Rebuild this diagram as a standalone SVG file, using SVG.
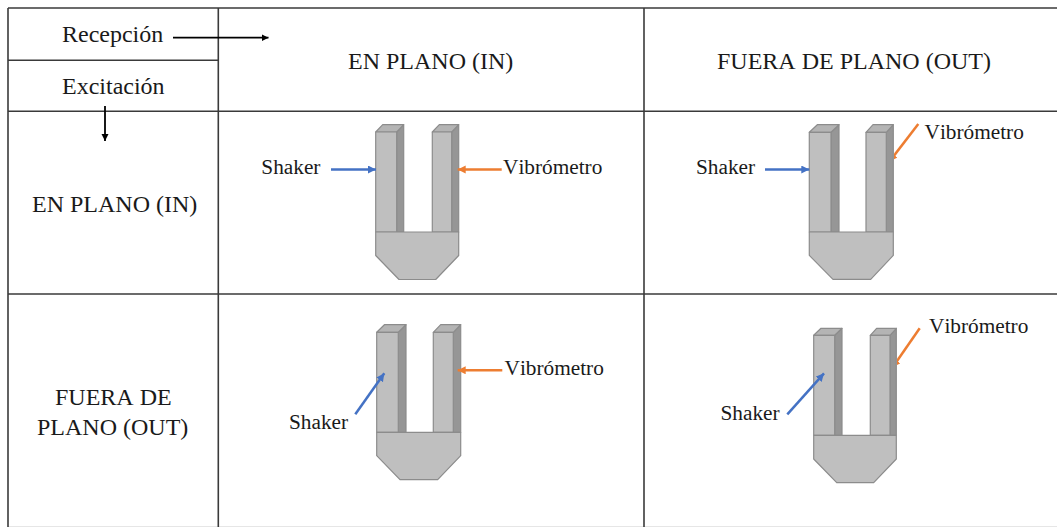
<svg xmlns="http://www.w3.org/2000/svg" width="1057" height="527" viewBox="0 0 1057 527">
<style>
text{font-family:"Liberation Serif","Times New Roman",serif;fill:#1a1a1a;font-kerning:none}
.h{font-size:24px}.l{font-size:21.3px}
.grid line{stroke:#3a3a3a;stroke-width:1.6}
.f{fill:#bfbfbf;stroke:#8c8c8c;stroke-width:1.2;stroke-linejoin:round}
.s{fill:#969696;stroke:#8c8c8c;stroke-width:1.2;stroke-linejoin:round}
.t{fill:#b4b4b4;stroke:#8c8c8c;stroke-width:1.2;stroke-linejoin:round}
.b{stroke:#4472c4;stroke-width:2.5;fill:none}
.o{stroke:#ed7d31;stroke-width:2.5;fill:none}
.k{stroke:#000;stroke-width:1.8;fill:none}
</style>
<defs>
<marker id="mb" markerUnits="userSpaceOnUse" markerWidth="9" markerHeight="9" refX="8" refY="4" orient="auto"><path d="M0 0L8 4L0 8Z" fill="#4472c4"/></marker>
<marker id="mo" markerUnits="userSpaceOnUse" markerWidth="9" markerHeight="9" refX="8" refY="4" orient="auto"><path d="M0 0L8 4L0 8Z" fill="#ed7d31"/></marker>
<marker id="mk" markerUnits="userSpaceOnUse" markerWidth="9" markerHeight="9" refX="7" refY="3.5" orient="auto"><path d="M0 0L7 3.5L0 7Z" fill="#000"/></marker>
<clipPath id="c2"><rect x="893.9" y="110" width="40" height="60"/></clipPath>
<clipPath id="c4"><rect x="896.9" y="320" width="40" height="60"/></clipPath>
</defs>
<g id="grid" class="grid">
<line x1="8" y1="8" x2="1057" y2="8"/>
<line x1="8" y1="60.3" x2="218.3" y2="60.3"/>
<line x1="8" y1="111.3" x2="1057" y2="111.3"/>
<line x1="8" y1="294" x2="1057" y2="294"/>
<line x1="8" y1="526.5" x2="1057" y2="526.5" style="stroke:#e6e6e6;stroke-width:1"/>
<line x1="8" y1="8" x2="8" y2="527"/>
<line x1="218.3" y1="8" x2="218.3" y2="527"/>
<line x1="644" y1="8" x2="644" y2="527"/>
</g>
<g id="headers">
<text class="h" x="62" y="42.3">Recepción</text>
<text class="h" x="62" y="94.3">Excitación</text>
<text class="h" x="348" y="69">EN PLANO (IN)</text>
<text class="h" x="717" y="69">FUERA DE PLANO (OUT)</text>
<text class="h" x="32" y="212">EN PLANO (IN)</text>
<text class="h" x="55" y="405">FUERA DE</text>
<text class="h" x="37" y="435">PLANO (OUT)</text>
</g>
<g id="fork1">
<polygon class="s" points="396.7,132 403.7,124.7 403.7,232 396.7,232"/>
<polygon class="t" points="375.7,132 382.7,124.7 403.7,124.7 396.7,132"/>
<rect class="f" x="375.7" y="132" width="21" height="100"/>
<polygon class="s" points="451.7,132 458.7,124.7 458.7,232 451.7,232"/>
<polygon class="t" points="432.3,132 439.3,124.7 458.7,124.7 451.7,132"/>
<rect class="f" x="432.3" y="132" width="19.4" height="100"/>
<polygon class="f" points="375.7,232 458.7,232 458.7,255.5 435.7,279.5 399,279.5 375.7,255.5"/>
<text class="l" x="261.3" y="174">Shaker</text>
<text class="l" x="503" y="174">Vibrómetro</text>
</g>
<g id="fork2">
<polygon class="s" points="831,132.3 839,124.7 839,232 831,232"/>
<polygon class="t" points="809.3,132.3 817.3,124.7 839,124.7 831,132.3"/>
<rect class="f" x="809.3" y="132.3" width="21.7" height="99.7"/>
<polygon class="s" points="886.3,132.3 893.3,124.7 893.3,232 886.3,232"/>
<polygon class="t" points="866,132.3 873,124.7 893.3,124.7 886.3,132.3"/>
<rect class="f" x="866" y="132.3" width="20.3" height="99.7"/>
<polygon class="f" points="809.3,232 893.3,232 893.3,255.3 870.7,279.3 833,279.3 809.3,255.3"/>
<text class="l" x="696" y="174">Shaker</text>
<text class="l" x="924.5" y="138.5">Vibrómetro</text>
</g>
<g id="fork3">
<polygon class="s" points="398.3,332.3 406,324.7 406,432.3 398.3,432.3"/>
<polygon class="t" points="376.7,332.3 384.4,324.7 406,324.7 398.3,332.3"/>
<rect class="f" x="376.7" y="332.3" width="21.6" height="100"/>
<polygon class="s" points="453.3,332.3 460.7,324.7 460.7,432.3 453.3,432.3"/>
<polygon class="t" points="433.3,332.3 440.7,324.7 460.7,324.7 453.3,332.3"/>
<rect class="f" x="433.3" y="332.3" width="20" height="100"/>
<polygon class="f" points="376.7,432.3 460.7,432.3 460.7,455.7 437.7,479.7 400,479.7 376.7,455.7"/>
<text class="l" x="289" y="429">Shaker</text>
<text class="l" x="504.5" y="375">Vibrómetro</text>
</g>
<g id="fork4">
<polygon class="s" points="834.7,335.3 842,328.3 842,435.3 834.7,435.3"/>
<polygon class="t" points="813.7,335.3 821,328.3 842,328.3 834.7,335.3"/>
<rect class="f" x="813.7" y="335.3" width="21" height="100"/>
<polygon class="s" points="890,335.3 896.3,328.3 896.3,435.3 890,435.3"/>
<polygon class="t" points="870.3,335.3 876.6,328.3 896.3,328.3 890,335.3"/>
<rect class="f" x="870.3" y="335.3" width="19.7" height="100"/>
<polygon class="f" points="813.7,435.3 896.3,435.3 896.3,459 873.7,482.7 836.7,482.7 813.7,459"/>
<text class="l" x="720.5" y="420">Shaker</text>
<text class="l" x="929" y="333">Vibrómetro</text>
</g>
<g id="connectors">
<line class="k" x1="173" y1="37.7" x2="268.5" y2="37.7" marker-end="url(#mk)"/>
<line class="k" x1="105" y1="106" x2="105" y2="141" marker-end="url(#mk)"/>
<line class="b" x1="331" y1="169.5" x2="376" y2="169.5" marker-end="url(#mb)"/>
<line class="o" x1="501.7" y1="169.5" x2="457.7" y2="169.5" marker-end="url(#mo)"/>
<line class="b" x1="765" y1="169.5" x2="809.3" y2="169.5" marker-end="url(#mb)"/>
<line class="o" x1="918.3" y1="124" x2="889.5" y2="161.5" marker-end="url(#mo)" clip-path="url(#c2)"/>
<line class="b" x1="355.3" y1="414.3" x2="384.3" y2="373.3" marker-end="url(#mb)"/>
<line class="o" x1="502.3" y1="370.3" x2="457.7" y2="370.3" marker-end="url(#mo)"/>
<line class="b" x1="787.3" y1="414.3" x2="824" y2="373.3" marker-end="url(#mb)"/>
<line class="o" x1="919.7" y1="328.3" x2="892.5" y2="367.5" marker-end="url(#mo)" clip-path="url(#c4)"/>
</g>
</svg>
